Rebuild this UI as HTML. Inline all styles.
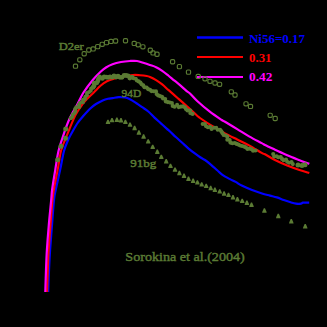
<!DOCTYPE html>
<html><head><meta charset="utf-8"><style>
html,body{margin:0;padding:0;background:#000;width:327px;height:327px;overflow:hidden}
svg{display:block}
</style></head><body>
<svg width="327" height="327" viewBox="0 0 327 327">
<rect width="327" height="327" fill="#000"/>
<path d="M48.20,292.00C48.33,288.33 48.68,277.00 49.00,270.00C49.32,263.00 49.60,257.50 50.10,250.00C50.60,242.50 51.35,233.33 52.00,225.00C52.65,216.67 53.35,206.00 54.00,200.00C54.65,194.00 54.87,194.07 55.90,189.00C56.93,183.93 58.85,175.93 60.20,169.60C61.55,163.27 62.65,156.02 64.00,151.00C65.35,145.98 66.97,142.58 68.30,139.50C69.63,136.42 70.45,135.25 72.00,132.50C73.55,129.75 75.77,125.70 77.60,123.00C79.43,120.30 80.93,118.68 83.00,116.30C85.07,113.92 87.83,110.75 90.00,108.70C92.17,106.65 93.88,105.38 96.00,104.00C98.12,102.62 100.70,101.28 102.70,100.40C104.70,99.52 106.35,99.08 108.00,98.70C109.65,98.32 110.80,98.35 112.60,98.10C114.40,97.85 116.73,97.32 118.80,97.20C120.87,97.08 123.13,97.05 125.00,97.40C126.87,97.75 128.15,98.37 130.00,99.30C131.85,100.23 134.07,101.68 136.10,103.00C138.13,104.32 140.17,105.78 142.20,107.20C144.23,108.62 146.25,109.77 148.30,111.50C150.35,113.23 152.45,115.67 154.50,117.60C156.55,119.53 158.57,121.27 160.60,123.10C162.63,124.93 165.13,127.20 166.70,128.60C168.27,130.00 168.43,130.05 170.00,131.50C171.57,132.95 174.07,135.42 176.10,137.30C178.13,139.18 180.17,140.97 182.20,142.80C184.23,144.63 186.25,146.57 188.30,148.30C190.35,150.03 192.45,151.67 194.50,153.20C196.55,154.73 198.85,156.37 200.60,157.50C202.35,158.63 203.25,158.78 205.00,160.00C206.75,161.22 209.07,163.08 211.10,164.80C213.13,166.52 215.37,168.67 217.20,170.30C219.03,171.93 220.05,173.17 222.10,174.60C224.15,176.03 227.25,177.68 229.50,178.90C231.75,180.12 233.57,180.78 235.60,181.90C237.63,183.02 238.97,184.25 241.70,185.60C244.43,186.95 248.62,188.68 252.00,190.00C255.38,191.32 259.00,192.57 262.00,193.50C265.00,194.43 267.52,194.95 270.00,195.60C272.48,196.25 274.60,196.67 276.90,197.40C279.20,198.13 281.52,199.18 283.80,200.00C286.08,200.82 288.55,201.68 290.60,202.30C292.65,202.92 294.37,203.47 296.10,203.70C297.83,203.93 299.85,203.87 301.00,203.70C302.15,203.53 301.63,202.87 303.00,202.70C304.37,202.53 308.17,202.70 309.20,202.70" fill="none" stroke="#0000ff" stroke-width="2.2" stroke-linejoin="round"/>
<path d="M47.10,292.00C47.22,288.33 47.53,277.00 47.80,270.00C48.07,263.00 48.25,257.50 48.70,250.00C49.15,242.50 49.87,233.33 50.50,225.00C51.13,216.67 51.92,206.00 52.50,200.00C53.08,194.00 53.13,194.07 54.00,189.00C54.87,183.93 56.53,175.93 57.70,169.60C58.87,163.27 59.75,156.02 61.00,151.00C62.25,145.98 63.67,143.47 65.20,139.50C66.73,135.53 68.65,130.95 70.20,127.20C71.75,123.45 73.12,119.87 74.50,117.00C75.88,114.13 77.25,112.00 78.50,110.00C79.75,108.00 80.75,106.67 82.00,105.00C83.25,103.33 84.03,102.08 86.00,100.00C87.97,97.92 91.38,94.87 93.80,92.50C96.22,90.13 98.32,87.67 100.50,85.80C102.68,83.93 104.60,82.50 106.90,81.30C109.20,80.10 111.78,79.35 114.30,78.60C116.82,77.85 118.88,77.40 122.00,76.80C125.12,76.20 130.00,75.27 133.00,75.00C136.00,74.73 137.72,75.03 140.00,75.20C142.28,75.37 145.03,75.70 146.70,76.00C148.37,76.30 148.43,76.32 150.00,77.00C151.57,77.68 154.07,78.87 156.10,80.10C158.13,81.33 160.17,82.77 162.20,84.40C164.23,86.03 166.47,88.28 168.30,89.90C170.13,91.52 171.53,92.65 173.20,94.10C174.87,95.55 176.42,96.93 178.30,98.60C180.18,100.27 182.45,102.27 184.50,104.10C186.55,105.93 188.48,107.67 190.60,109.60C192.72,111.53 195.63,114.30 197.20,115.70C198.77,117.10 197.95,116.57 200.00,118.00C202.05,119.43 206.50,122.45 209.50,124.30C212.50,126.15 215.42,127.60 218.00,129.10C220.58,130.60 221.80,131.57 225.00,133.30C228.20,135.03 233.12,137.45 237.20,139.50C241.28,141.55 245.42,143.37 249.50,145.60C253.58,147.83 259.12,151.45 261.70,152.90C264.28,154.35 262.78,153.12 265.00,154.30C267.22,155.48 271.30,158.13 275.00,160.00C278.70,161.87 283.12,163.83 287.20,165.50C291.28,167.17 295.82,168.75 299.50,170.00C303.18,171.25 307.67,172.50 309.30,173.00" fill="none" stroke="#ff0000" stroke-width="2.1" stroke-linejoin="round"/>
<path d="M45.30,292.00C45.42,288.33 45.73,277.00 46.00,270.00C46.27,263.00 46.43,257.50 46.90,250.00C47.37,242.50 48.08,233.33 48.80,225.00C49.52,216.67 50.63,206.00 51.20,200.00C51.77,194.00 51.52,194.07 52.20,189.00C52.88,183.93 54.25,175.93 55.30,169.60C56.35,163.27 57.12,156.83 58.50,151.00C59.88,145.17 61.82,139.85 63.60,134.60C65.38,129.35 66.92,124.52 69.20,119.50C71.48,114.48 74.92,109.00 77.30,104.50C79.68,100.00 80.88,96.63 83.50,92.50C86.12,88.37 90.15,83.15 93.00,79.70C95.85,76.25 98.43,73.83 100.60,71.80C102.77,69.77 104.02,68.77 106.00,67.50C107.98,66.23 110.00,65.12 112.50,64.20C115.00,63.28 118.08,62.53 121.00,62.00C123.92,61.47 127.33,61.17 130.00,61.00C132.67,60.83 134.67,60.67 137.00,61.00C139.33,61.33 141.83,62.33 144.00,63.00C146.17,63.67 147.98,64.30 150.00,65.00C152.02,65.70 154.07,66.23 156.10,67.20C158.13,68.17 160.17,69.42 162.20,70.80C164.23,72.18 166.25,73.85 168.30,75.50C170.35,77.15 172.45,79.02 174.50,80.70C176.55,82.38 178.57,83.87 180.60,85.60C182.63,87.33 185.13,89.78 186.70,91.10C188.27,92.42 188.25,91.85 190.00,93.50C191.75,95.15 193.95,98.02 197.20,101.00C200.45,103.98 205.42,108.23 209.50,111.40C213.58,114.57 219.12,118.27 221.70,120.00C224.28,121.73 222.42,120.28 225.00,121.80C227.58,123.32 233.12,126.63 237.20,129.10C241.28,131.57 245.42,134.27 249.50,136.60C253.58,138.93 259.12,141.70 261.70,143.10C264.28,144.50 262.78,143.90 265.00,145.00C267.22,146.10 271.30,147.98 275.00,149.70C278.70,151.42 283.12,153.55 287.20,155.30C291.28,157.05 295.82,158.77 299.50,160.20C303.18,161.63 307.67,163.28 309.30,163.90" fill="none" stroke="#ff00ff" stroke-width="2.2" stroke-linejoin="round"/>
<line x1="197" y1="37.5" x2="243" y2="37.5" stroke="#0000ff" stroke-width="2.6"/>
<line x1="197" y1="57" x2="243" y2="57" stroke="#ff0000" stroke-width="2"/>
<line x1="197" y1="77" x2="243" y2="77" stroke="#ff00ff" stroke-width="2"/>
<rect x="73.4" y="64.1" width="4.2" height="4.2" rx="1.3" fill="none" stroke="#5b7b34" stroke-width="1.15"/>
<rect x="77.7" y="57.7" width="4.2" height="4.2" rx="1.3" fill="none" stroke="#5b7b34" stroke-width="1.15"/>
<rect x="82.1" y="51.6" width="4.2" height="4.2" rx="1.3" fill="none" stroke="#5b7b34" stroke-width="1.15"/>
<rect x="86.7" y="47.9" width="4.2" height="4.2" rx="1.3" fill="none" stroke="#5b7b34" stroke-width="1.15"/>
<rect x="91.1" y="46.8" width="4.2" height="4.2" rx="1.3" fill="none" stroke="#5b7b34" stroke-width="1.15"/>
<rect x="95.6" y="44.5" width="4.2" height="4.2" rx="1.3" fill="none" stroke="#5b7b34" stroke-width="1.15"/>
<rect x="100.1" y="42.2" width="4.2" height="4.2" rx="1.3" fill="none" stroke="#5b7b34" stroke-width="1.15"/>
<rect x="104.4" y="40.5" width="4.2" height="4.2" rx="1.3" fill="none" stroke="#5b7b34" stroke-width="1.15"/>
<rect x="108.9" y="39.3" width="4.2" height="4.2" rx="1.3" fill="none" stroke="#5b7b34" stroke-width="1.15"/>
<rect x="113.5" y="38.9" width="4.2" height="4.2" rx="1.3" fill="none" stroke="#5b7b34" stroke-width="1.15"/>
<rect x="123.4" y="38.6" width="4.2" height="4.2" rx="1.3" fill="none" stroke="#5b7b34" stroke-width="1.15"/>
<rect x="132.1" y="41.3" width="4.2" height="4.2" rx="1.3" fill="none" stroke="#5b7b34" stroke-width="1.15"/>
<rect x="136.1" y="42.7" width="4.2" height="4.2" rx="1.3" fill="none" stroke="#5b7b34" stroke-width="1.15"/>
<rect x="140.8" y="44.7" width="4.2" height="4.2" rx="1.3" fill="none" stroke="#5b7b34" stroke-width="1.15"/>
<rect x="148.2" y="48.1" width="4.2" height="4.2" rx="1.3" fill="none" stroke="#5b7b34" stroke-width="1.15"/>
<rect x="150.9" y="50.8" width="4.2" height="4.2" rx="1.3" fill="none" stroke="#5b7b34" stroke-width="1.15"/>
<rect x="154.9" y="52.1" width="4.2" height="4.2" rx="1.3" fill="none" stroke="#5b7b34" stroke-width="1.15"/>
<rect x="170.5" y="59.6" width="4.2" height="4.2" rx="1.3" fill="none" stroke="#5b7b34" stroke-width="1.15"/>
<rect x="177.3" y="64.5" width="4.2" height="4.2" rx="1.3" fill="none" stroke="#5b7b34" stroke-width="1.15"/>
<rect x="186.4" y="70.0" width="4.2" height="4.2" rx="1.3" fill="none" stroke="#5b7b34" stroke-width="1.15"/>
<rect x="196.1" y="74.3" width="4.2" height="4.2" rx="1.3" fill="none" stroke="#5b7b34" stroke-width="1.15"/>
<rect x="202.9" y="76.7" width="4.2" height="4.2" rx="1.3" fill="none" stroke="#5b7b34" stroke-width="1.15"/>
<rect x="207.9" y="79.2" width="4.2" height="4.2" rx="1.3" fill="none" stroke="#5b7b34" stroke-width="1.15"/>
<rect x="212.9" y="80.9" width="4.2" height="4.2" rx="1.3" fill="none" stroke="#5b7b34" stroke-width="1.15"/>
<rect x="217.5" y="82.2" width="4.2" height="4.2" rx="1.3" fill="none" stroke="#5b7b34" stroke-width="1.15"/>
<rect x="229.2" y="89.7" width="4.2" height="4.2" rx="1.3" fill="none" stroke="#5b7b34" stroke-width="1.15"/>
<rect x="232.9" y="92.9" width="4.2" height="4.2" rx="1.3" fill="none" stroke="#5b7b34" stroke-width="1.15"/>
<rect x="243.9" y="101.7" width="4.2" height="4.2" rx="1.3" fill="none" stroke="#5b7b34" stroke-width="1.15"/>
<rect x="248.4" y="104.3" width="4.2" height="4.2" rx="1.3" fill="none" stroke="#5b7b34" stroke-width="1.15"/>
<rect x="268.1" y="113.2" width="4.2" height="4.2" rx="1.3" fill="none" stroke="#5b7b34" stroke-width="1.15"/>
<rect x="273.1" y="116.4" width="4.2" height="4.2" rx="1.3" fill="none" stroke="#5b7b34" stroke-width="1.15"/>
<circle cx="70.7" cy="118.2" r="2.05" fill="#5b7b34"/>
<circle cx="72.3" cy="116.8" r="2.05" fill="#5b7b34"/>
<circle cx="72.8" cy="114.8" r="2.05" fill="#5b7b34"/>
<circle cx="74.2" cy="113.3" r="2.05" fill="#5b7b34"/>
<circle cx="75.3" cy="111.6" r="2.05" fill="#5b7b34"/>
<circle cx="75.2" cy="109.1" r="2.05" fill="#5b7b34"/>
<circle cx="76.3" cy="107.4" r="2.05" fill="#5b7b34"/>
<circle cx="79.2" cy="107.0" r="2.05" fill="#5b7b34"/>
<circle cx="79.0" cy="104.5" r="2.05" fill="#5b7b34"/>
<circle cx="80.1" cy="102.8" r="2.05" fill="#5b7b34"/>
<circle cx="82.9" cy="102.3" r="2.05" fill="#5b7b34"/>
<circle cx="82.9" cy="99.9" r="2.05" fill="#5b7b34"/>
<circle cx="84.9" cy="98.9" r="2.05" fill="#5b7b34"/>
<circle cx="85.4" cy="96.7" r="2.05" fill="#5b7b34"/>
<circle cx="86.9" cy="95.3" r="2.05" fill="#5b7b34"/>
<circle cx="87.0" cy="93.0" r="2.05" fill="#5b7b34"/>
<circle cx="89.1" cy="92.0" r="2.05" fill="#5b7b34"/>
<circle cx="90.7" cy="90.7" r="2.05" fill="#5b7b34"/>
<circle cx="91.2" cy="88.6" r="2.05" fill="#5b7b34"/>
<circle cx="93.0" cy="87.4" r="2.4" fill="#5b7b34"/>
<circle cx="94.1" cy="85.8" r="2.4" fill="#5b7b34"/>
<circle cx="94.1" cy="83.2" r="2.4" fill="#5b7b34"/>
<circle cx="96.8" cy="82.8" r="2.4" fill="#5b7b34"/>
<circle cx="97.8" cy="81.0" r="2.4" fill="#5b7b34"/>
<circle cx="98.5" cy="79.0" r="2.4" fill="#5b7b34"/>
<circle cx="99.6" cy="76.9" r="2.4" fill="#5b7b34"/>
<circle cx="102.4" cy="78.4" r="2.4" fill="#5b7b34"/>
<circle cx="104.1" cy="76.9" r="2.4" fill="#5b7b34"/>
<circle cx="106.1" cy="77.1" r="2.4" fill="#5b7b34"/>
<circle cx="108.1" cy="77.4" r="2.4" fill="#5b7b34"/>
<circle cx="110.1" cy="76.9" r="2.4" fill="#5b7b34"/>
<circle cx="112.1" cy="77.3" r="2.4" fill="#5b7b34"/>
<circle cx="114.0" cy="75.9" r="2.4" fill="#5b7b34"/>
<circle cx="116.0" cy="77.0" r="2.4" fill="#5b7b34"/>
<circle cx="118.0" cy="76.1" r="2.4" fill="#5b7b34"/>
<circle cx="120.0" cy="77.3" r="2.4" fill="#5b7b34"/>
<circle cx="122.0" cy="77.3" r="2.4" fill="#5b7b34"/>
<circle cx="124.1" cy="75.3" r="2.4" fill="#5b7b34"/>
<circle cx="126.1" cy="75.5" r="2.4" fill="#5b7b34"/>
<circle cx="128.1" cy="75.8" r="2.4" fill="#5b7b34"/>
<circle cx="129.8" cy="78.1" r="2.4" fill="#5b7b34"/>
<circle cx="132.0" cy="77.1" r="2.4" fill="#5b7b34"/>
<circle cx="133.6" cy="78.3" r="2.05" fill="#5b7b34"/>
<circle cx="135.7" cy="78.8" r="2.05" fill="#5b7b34"/>
<circle cx="136.9" cy="80.5" r="2.05" fill="#5b7b34"/>
<circle cx="138.7" cy="81.4" r="2.05" fill="#5b7b34"/>
<circle cx="140.4" cy="82.5" r="2.05" fill="#5b7b34"/>
<circle cx="141.6" cy="84.2" r="2.05" fill="#5b7b34"/>
<circle cx="143.3" cy="85.4" r="2.05" fill="#5b7b34"/>
<circle cx="144.5" cy="87.2" r="2.05" fill="#5b7b34"/>
<circle cx="146.6" cy="87.6" r="2.05" fill="#5b7b34"/>
<circle cx="148.1" cy="89.1" r="2.05" fill="#5b7b34"/>
<circle cx="150.0" cy="89.8" r="2.05" fill="#5b7b34"/>
<circle cx="151.5" cy="91.1" r="2.05" fill="#5b7b34"/>
<circle cx="153.7" cy="91.3" r="2.05" fill="#5b7b34"/>
<circle cx="156.0" cy="91.4" r="2.05" fill="#5b7b34"/>
<circle cx="156.6" cy="94.1" r="2.05" fill="#5b7b34"/>
<circle cx="158.2" cy="95.4" r="2.05" fill="#5b7b34"/>
<circle cx="160.0" cy="96.1" r="2.05" fill="#5b7b34"/>
<circle cx="162.0" cy="96.7" r="2.05" fill="#5b7b34"/>
<circle cx="163.0" cy="98.4" r="2.05" fill="#5b7b34"/>
<circle cx="165.2" cy="99.0" r="2.05" fill="#5b7b34"/>
<circle cx="165.8" cy="101.5" r="2.05" fill="#5b7b34"/>
<circle cx="167.8" cy="102.1" r="2.05" fill="#5b7b34"/>
<circle cx="169.9" cy="102.5" r="2.05" fill="#5b7b34"/>
<circle cx="171.9" cy="103.0" r="2.05" fill="#5b7b34"/>
<circle cx="172.7" cy="105.9" r="2.05" fill="#5b7b34"/>
<circle cx="174.6" cy="106.8" r="2.05" fill="#5b7b34"/>
<circle cx="177.1" cy="104.9" r="2.05" fill="#5b7b34"/>
<circle cx="178.7" cy="107.1" r="2.05" fill="#5b7b34"/>
<circle cx="180.9" cy="106.6" r="2.05" fill="#5b7b34"/>
<circle cx="183.0" cy="106.4" r="2.05" fill="#5b7b34"/>
<circle cx="184.9" cy="107.3" r="2.05" fill="#5b7b34"/>
<circle cx="186.1" cy="109.3" r="2.05" fill="#5b7b34"/>
<circle cx="187.5" cy="110.4" r="2.05" fill="#5b7b34"/>
<circle cx="190.3" cy="110.6" r="2.05" fill="#5b7b34"/>
<circle cx="190.3" cy="113.1" r="2.05" fill="#5b7b34"/>
<circle cx="192.6" cy="113.9" r="2.05" fill="#5b7b34"/>
<circle cx="202.7" cy="124.0" r="2.05" fill="#5b7b34"/>
<circle cx="205.0" cy="124.0" r="2.05" fill="#5b7b34"/>
<circle cx="206.1" cy="126.2" r="2.05" fill="#5b7b34"/>
<circle cx="207.9" cy="127.3" r="2.05" fill="#5b7b34"/>
<circle cx="210.2" cy="126.9" r="2.05" fill="#5b7b34"/>
<circle cx="211.6" cy="128.9" r="2.05" fill="#5b7b34"/>
<circle cx="214.1" cy="127.8" r="2.05" fill="#5b7b34"/>
<circle cx="216.2" cy="127.8" r="2.05" fill="#5b7b34"/>
<circle cx="217.7" cy="129.7" r="2.05" fill="#5b7b34"/>
<circle cx="220.1" cy="129.8" r="2.05" fill="#5b7b34"/>
<circle cx="221.4" cy="131.4" r="2.05" fill="#5b7b34"/>
<circle cx="222.5" cy="133.2" r="2.05" fill="#5b7b34"/>
<circle cx="223.6" cy="135.0" r="2.05" fill="#5b7b34"/>
<circle cx="225.8" cy="135.5" r="2.05" fill="#5b7b34"/>
<circle cx="227.4" cy="136.7" r="2.05" fill="#5b7b34"/>
<circle cx="227.3" cy="139.7" r="2.05" fill="#5b7b34"/>
<circle cx="229.7" cy="140.0" r="2.05" fill="#5b7b34"/>
<circle cx="230.4" cy="142.6" r="2.05" fill="#5b7b34"/>
<circle cx="232.4" cy="143.3" r="2.05" fill="#5b7b34"/>
<circle cx="234.8" cy="143.0" r="2.05" fill="#5b7b34"/>
<circle cx="236.6" cy="143.9" r="2.05" fill="#5b7b34"/>
<circle cx="238.4" cy="144.6" r="2.05" fill="#5b7b34"/>
<circle cx="240.2" cy="145.5" r="2.05" fill="#5b7b34"/>
<circle cx="242.1" cy="146.0" r="2.05" fill="#5b7b34"/>
<circle cx="244.1" cy="146.6" r="2.05" fill="#5b7b34"/>
<circle cx="245.9" cy="147.4" r="2.05" fill="#5b7b34"/>
<circle cx="247.5" cy="148.9" r="2.05" fill="#5b7b34"/>
<circle cx="249.7" cy="148.6" r="2.05" fill="#5b7b34"/>
<circle cx="251.7" cy="149.2" r="2.05" fill="#5b7b34"/>
<circle cx="253.1" cy="150.7" r="2.05" fill="#5b7b34"/>
<circle cx="255.5" cy="150.5" r="2.05" fill="#5b7b34"/>
<circle cx="273.2" cy="154.0" r="2.05" fill="#5b7b34"/>
<circle cx="274.2" cy="156.5" r="2.05" fill="#5b7b34"/>
<circle cx="276.6" cy="156.3" r="2.05" fill="#5b7b34"/>
<circle cx="278.3" cy="157.3" r="2.05" fill="#5b7b34"/>
<circle cx="280.7" cy="157.0" r="2.05" fill="#5b7b34"/>
<circle cx="282.0" cy="158.9" r="2.05" fill="#5b7b34"/>
<circle cx="283.6" cy="160.2" r="2.05" fill="#5b7b34"/>
<circle cx="286.0" cy="159.6" r="2.05" fill="#5b7b34"/>
<circle cx="287.2" cy="161.8" r="2.05" fill="#5b7b34"/>
<circle cx="289.1" cy="162.7" r="2.05" fill="#5b7b34"/>
<circle cx="291.5" cy="162.0" r="2.05" fill="#5b7b34"/>
<circle cx="292.8" cy="164.1" r="2.05" fill="#5b7b34"/>
<circle cx="57.7" cy="159.8" r="2.5" fill="#5b7b34"/>
<circle cx="61.0" cy="146.2" r="2.5" fill="#5b7b34"/>
<circle cx="65.5" cy="138.2" r="2.5" fill="#5b7b34"/>
<circle cx="65.7" cy="129.1" r="2.5" fill="#5b7b34"/>
<circle cx="298.0" cy="165.0" r="2.5" fill="#5b7b34"/>
<circle cx="302.0" cy="165.5" r="2.5" fill="#5b7b34"/>
<circle cx="305.0" cy="164.7" r="2.5" fill="#5b7b34"/>
<path d="M105.7,124.1L110.3,124.1L109.9,122.6L108.6,119.7L107.4,119.7L106.1,122.6Z" fill="#5b7b34"/>
<path d="M109.7,122.3L114.3,122.3L113.9,120.8L112.6,117.9L111.4,117.9L110.1,120.8Z" fill="#5b7b34"/>
<path d="M114.6,121.9L119.2,121.9L118.8,120.4L117.5,117.5L116.3,117.5L115.0,120.4Z" fill="#5b7b34"/>
<path d="M118.7,122.5L123.3,122.5L122.9,121.0L121.6,118.1L120.4,118.1L119.1,121.0Z" fill="#5b7b34"/>
<path d="M123.1,124.1L127.7,124.1L127.3,122.6L126.0,119.7L124.8,119.7L123.5,122.6Z" fill="#5b7b34"/>
<path d="M127.7,126.8L132.3,126.8L131.9,125.3L130.6,122.4L129.4,122.4L128.1,125.3Z" fill="#5b7b34"/>
<path d="M132.3,130.2L136.9,130.2L136.5,128.7L135.2,125.8L134.0,125.8L132.7,128.7Z" fill="#5b7b34"/>
<path d="M136.6,134.7L141.2,134.7L140.8,133.2L139.5,130.3L138.3,130.3L137.0,133.2Z" fill="#5b7b34"/>
<path d="M141.3,138.7L145.9,138.7L145.5,137.2L144.2,134.3L143.0,134.3L141.7,137.2Z" fill="#5b7b34"/>
<path d="M145.9,143.6L150.5,143.6L150.1,142.1L148.8,139.2L147.6,139.2L146.3,142.1Z" fill="#5b7b34"/>
<path d="M150.4,149.1L155.0,149.1L154.6,147.6L153.3,144.7L152.1,144.7L150.8,147.6Z" fill="#5b7b34"/>
<path d="M155.0,154.0L159.6,154.0L159.2,152.5L157.9,149.6L156.7,149.6L155.4,152.5Z" fill="#5b7b34"/>
<path d="M159.0,159.1L163.6,159.1L163.2,157.6L161.9,154.7L160.7,154.7L159.4,157.6Z" fill="#5b7b34"/>
<path d="M163.9,163.4L168.5,163.4L168.1,161.9L166.8,159.0L165.6,159.0L164.3,161.9Z" fill="#5b7b34"/>
<path d="M168.2,168.1L172.8,168.1L172.4,166.6L171.1,163.7L169.9,163.7L168.6,166.6Z" fill="#5b7b34"/>
<path d="M172.7,171.8L177.3,171.8L176.9,170.3L175.6,167.4L174.4,167.4L173.1,170.3Z" fill="#5b7b34"/>
<path d="M177.1,175.2L181.7,175.2L181.3,173.7L180.0,170.8L178.8,170.8L177.5,173.7Z" fill="#5b7b34"/>
<path d="M181.7,177.9L186.3,177.9L185.9,176.4L184.6,173.5L183.4,173.5L182.1,176.4Z" fill="#5b7b34"/>
<path d="M186.2,181.0L190.8,181.0L190.4,179.5L189.1,176.6L187.9,176.6L186.6,179.5Z" fill="#5b7b34"/>
<path d="M190.8,183.0L195.4,183.0L195.0,181.5L193.7,178.6L192.5,178.6L191.2,181.5Z" fill="#5b7b34"/>
<path d="M195.1,184.6L199.7,184.6L199.3,183.1L198.0,180.2L196.8,180.2L195.5,183.1Z" fill="#5b7b34"/>
<path d="M199.4,186.6L204.0,186.6L203.6,185.1L202.3,182.2L201.1,182.2L199.8,185.1Z" fill="#5b7b34"/>
<path d="M203.9,188.1L208.5,188.1L208.1,186.6L206.8,183.7L205.6,183.7L204.3,186.6Z" fill="#5b7b34"/>
<path d="M208.4,190.2L213.0,190.2L212.6,188.7L211.3,185.8L210.1,185.8L208.8,188.7Z" fill="#5b7b34"/>
<path d="M212.6,192.0L217.2,192.0L216.8,190.5L215.5,187.6L214.3,187.6L213.0,190.5Z" fill="#5b7b34"/>
<path d="M217.4,193.6L222.0,193.6L221.6,192.1L220.3,189.2L219.1,189.2L217.8,192.1Z" fill="#5b7b34"/>
<path d="M221.8,195.7L226.4,195.7L226.0,194.2L224.7,191.3L223.5,191.3L222.2,194.2Z" fill="#5b7b34"/>
<path d="M226.2,197.1L230.8,197.1L230.4,195.6L229.1,192.7L227.9,192.7L226.6,195.6Z" fill="#5b7b34"/>
<path d="M230.7,199.5L235.3,199.5L234.9,198.0L233.6,195.1L232.4,195.1L231.1,198.0Z" fill="#5b7b34"/>
<path d="M235.1,201.4L239.7,201.4L239.3,199.9L238.0,197.0L236.8,197.0L235.5,199.9Z" fill="#5b7b34"/>
<path d="M239.9,203.1L244.5,203.1L244.1,201.6L242.8,198.7L241.6,198.7L240.3,201.6Z" fill="#5b7b34"/>
<path d="M244.6,204.9L249.2,204.9L248.8,203.4L247.5,200.5L246.3,200.5L245.0,203.4Z" fill="#5b7b34"/>
<path d="M249.2,207.0L253.8,207.0L253.4,205.5L252.1,202.6L250.9,202.6L249.6,205.5Z" fill="#5b7b34"/>
<path d="M262.1,212.7L266.7,212.7L266.3,211.2L265.0,208.3L263.8,208.3L262.5,211.2Z" fill="#5b7b34"/>
<path d="M276.0,218.2L280.6,218.2L280.2,216.7L278.9,213.8L277.7,213.8L276.4,216.7Z" fill="#5b7b34"/>
<path d="M289.0,223.4L293.6,223.4L293.2,221.9L291.9,219.0L290.7,219.0L289.4,221.9Z" fill="#5b7b34"/>
<path d="M302.9,228.5L307.5,228.5L307.1,227.0L305.8,224.1L304.6,224.1L303.3,227.0Z" fill="#5b7b34"/>
<text x="249" y="42.6" font-family="Liberation Serif" font-size="12" font-weight="bold" fill="#0000ff" textLength="56" lengthAdjust="spacingAndGlyphs">Ni56=0.17</text>
<text x="249" y="62.2" font-family="Liberation Serif" font-size="12.3" font-weight="bold" fill="#ff0000" textLength="22.5" lengthAdjust="spacingAndGlyphs">0.31</text>
<text x="249" y="81.4" font-family="Liberation Serif" font-size="12" font-weight="bold" fill="#ff00ff" textLength="23.3" lengthAdjust="spacingAndGlyphs">0.42</text>
<text x="58.8" y="49.6" font-family="Liberation Serif" font-size="10.6" fill="#5b7b34" stroke="#5b7b34" stroke-width="0.45" textLength="25" lengthAdjust="spacingAndGlyphs">D2er</text>
<text x="121.5" y="96.7" font-family="Liberation Serif" font-size="11" fill="#5b7b34" stroke="#5b7b34" stroke-width="0.45" textLength="19.7" lengthAdjust="spacingAndGlyphs">94D</text>
<text x="130.3" y="167.3" font-family="Liberation Serif" font-size="11" fill="#5b7b34" stroke="#5b7b34" stroke-width="0.45" textLength="26" lengthAdjust="spacingAndGlyphs">91bg</text>
<text x="125.3" y="261" font-family="Liberation Serif" font-size="12.5" fill="#5b7b34" stroke="#5b7b34" stroke-width="0.4" textLength="119.5" lengthAdjust="spacingAndGlyphs">Sorokina et al.(2004)</text>
</svg>
</body></html>
